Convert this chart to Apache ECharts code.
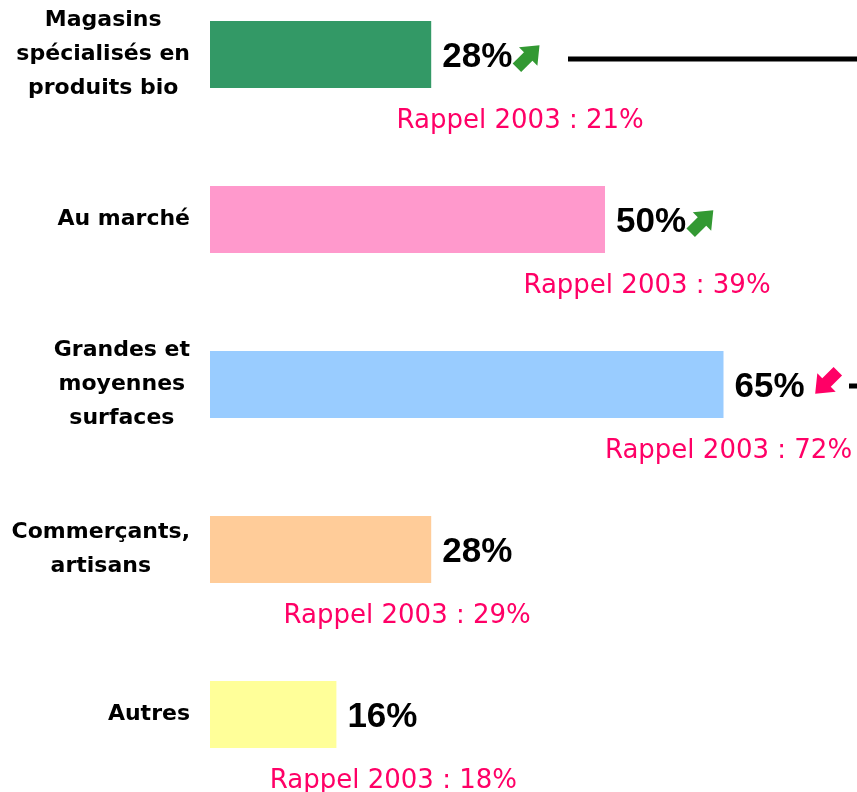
<!DOCTYPE html>
<html>
<head>
<meta charset="utf-8">
<script src="https://cdn.jsdelivr.net/npm/echarts@6/dist/echarts.min.js"></script>
<style>
  html, body { margin: 0; padding: 0; background: #fff; }
  #chart { width: 857px; height: 792px; }
</style>
</head>
<body>
<div id="chart"></div>
<script>
// lieux d'achat des produits bio
const categories = [
    'Magasins\nspécialisés en\nproduits bio',
    'Au marché',
    'Grandes et\nmoyennes\nsurfaces',
    'Commerçants,\nartisans',
    'Autres'
];
const values = [28, 50, 65, 28, 16];
const rappel2003 = [21, 39, 72, 29, 18];
const trends = ['up', 'up', 'down', null, null];
const barColors = ['#339966', '#FF99CC', '#99CCFF', '#FFCC99', '#FFFF99'];

// décalage horizontal des libellés "Rappel 2003" (mise en page)
const rappelShift = [89, 42, 5, -24, 57];

const arrowPath = 'path://M0,-13 L13,0 L6,0 L6,13 L-6,13 L-6,0 L-13,0 Z';

const chart = echarts.init(document.getElementById('chart'));

const option = {
    animation: false,
    grid: { left: 210, right: 15, top: -28, height: 825, outerBoundsMode: 'none', containLabel: false },
    xAxis: {
        type: 'value',
        min: 0,
        max: 80,
        show: false
    },
    yAxis: {
        type: 'category',
        inverse: true,
        data: categories,
        axisLine: { show: false },
        axisTick: { show: false },
        splitLine: { show: false },
        axisLabel: {
            margin: 20,
            formatter: function (v) {
                return v.split('\n').map(function (l) { return '{a|' + l + '}'; }).join('\n');
            },
            rich: {
                a: {
                    align: 'center',
                    fontFamily: 'DejaVu Sans',
                    fontWeight: 'bold',
                    fontSize: 22,
                    lineHeight: 34,
                    color: '#000'
                }
            }
        }
    },
    series: [
        {
            type: 'bar',
            barWidth: 67,
            data: values.map(function (v, i) {
                return { value: v, itemStyle: { color: barColors[i] } };
            }),
            label: {
                show: true,
                position: 'right',
                distance: 11,
                offset: [0, 3],
                formatter: '{c}%',
                fontFamily: 'Liberation Sans',
                fontWeight: 'bold',
                fontSize: 35,
                color: '#000'
            }
        },
        {
            // libellés Rappel 2003
            type: 'scatter',
            symbolSize: 0,
            silent: true,
            itemStyle: { opacity: 1 },
            data: values.map(function (v, i) {
                return {
                    value: [v, i],
                    label: {
                        show: true,
                        position: 'inside',
                        offset: [rappelShift[i], 67],
                        formatter: 'Rappel 2003 : ' + rappel2003[i] + '%'
                    }
                };
            }),
            label: {
                fontFamily: 'DejaVu Sans',
                fontSize: 26,
                color: '#FF0066'
            }
        },
        {
            // flèches d'évolution
            type: 'scatter',
            silent: true,
            symbol: arrowPath,
            symbolSize: [26, 32],
            data: values.map(function (v, i) {
                if (!trends[i]) return null;
                const up = trends[i] === 'up';
                return {
                    value: [v, i],
                    symbolRotate: up ? -45 : 135,
                    symbolOffset: up ? [97, 2] : [103, -2],
                    itemStyle: { color: up ? '#339933' : '#FF0066', opacity: 1 }
                };
            }).filter(function (d) { return d; })
        }
    ],
    graphic: [
        {
            type: 'line',
            shape: { x1: 568, y1: 59, x2: 857, y2: 59 },
            style: { stroke: '#000', lineWidth: 5 }
        },
        {
            type: 'line',
            shape: { x1: 849, y1: 386, x2: 857, y2: 386 },
            style: { stroke: '#000', lineWidth: 5 }
        }
    ]
};

chart.setOption(option);
</script>
</body>
</html>
